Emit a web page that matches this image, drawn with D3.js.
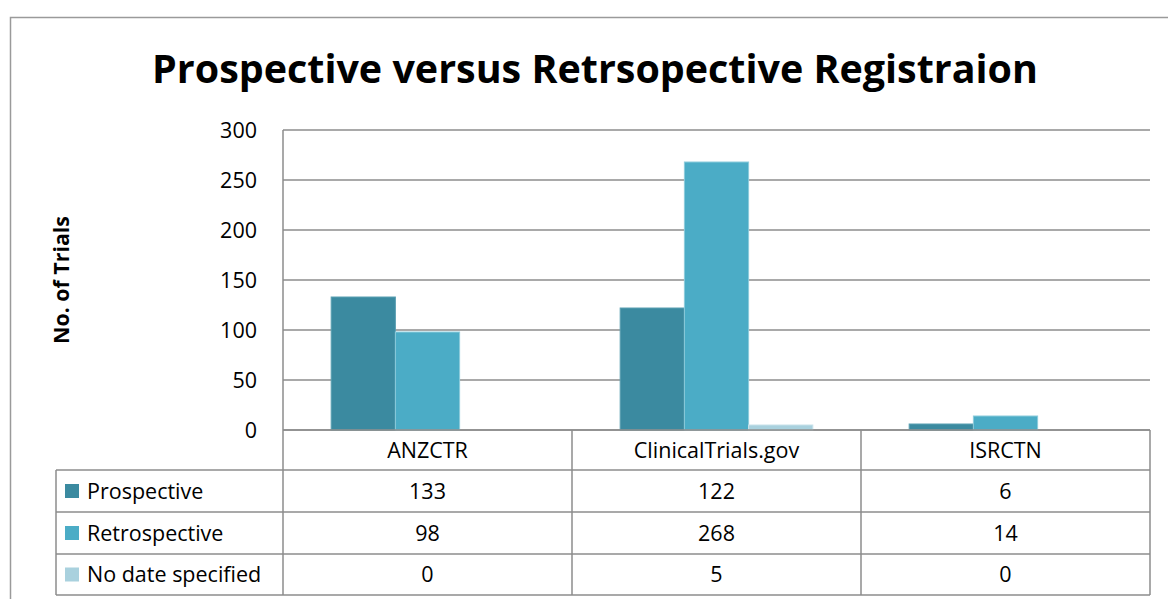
<!DOCTYPE html>
<html>
<head>
<meta charset="utf-8">
<script src="https://cdn.jsdelivr.net/npm/d3@7"></script>
<style>
  body { margin: 0; background: #fff; }
  svg { display: block; font-family: "Open Sans", "Noto Sans", sans-serif; }
</style>
</head>
<body>
<svg id="chart" width="1168" height="599"></svg>
<script>
// chart data
var categories = ["ANZCTR", "ClinicalTrials.gov", "ISRCTN"];
var seriesNames = ["Prospective", "Retrospective", "No date specified"];
var prospective = [133, 122, 6];
var retrospective = [98, 268, 14];
var noDate = [0, 5, 0];
var yTicks = [0, 50, 100, 150, 200, 250, 300];

var seriesValues = [prospective, retrospective, noDate];
var colors = ["#3b8aa0", "#4bacc6", "#a9d1de"];
var edgeColors = ["#5a9fb2", "#8ccbdb", "#c8e2ea"];

var plot = {left: 283, right: 1150, top: 130, bottom: 430};
var rowTops = [430, 470, 512, 554, 595];
var tableLeft = 56;
var gridColor = "#8c8c8c";
var fs = 21.5;

var svg = d3.select("#chart");

// outer chart border (runs off the right/bottom of the picture)
svg.append("rect")
  .attr("x", 10.5).attr("y", 17.5)
  .attr("width", 1200).attr("height", 700)
  .attr("fill", "none").attr("stroke", "#9a9a9a").attr("stroke-width", 1.5);

// fit a text node to a target width by changing its font size
function fitWidth(sel, base, target) {
  var w = sel.node().getComputedTextLength();
  sel.attr("font-size", base * target / w);
}

// title
var title = svg.append("text")
  .attr("x", (152 + 1038) / 2).attr("y", 83)
  .attr("text-anchor", "middle")
  .attr("font-weight", "bold")
  .attr("font-size", 40)
  .attr("fill", "#000")
  .text("Prospective versus Retrsopective Registraion");
fitWidth(title, 40, 886);

var x = d3.scaleBand().domain(categories).range([plot.left, plot.right]);
var xs = d3.scaleBand().domain(d3.range(seriesNames.length)).range([0, x.bandwidth()]).paddingOuter(0.75).paddingInner(0);
var y = d3.scaleLinear().domain([0, 300]).range([plot.bottom, plot.top]);

// gridlines
svg.append("g").selectAll("line")
  .data(yTicks)
  .enter().append("line")
  .attr("x1", plot.left).attr("x2", plot.right)
  .attr("y1", function(d) { return y(d); })
  .attr("y2", function(d) { return y(d); })
  .attr("stroke", gridColor).attr("stroke-width", 1.5);

// y tick labels
svg.append("g").selectAll("text")
  .data(yTicks)
  .enter().append("text")
  .attr("x", 257).attr("y", function(d) { return y(d); })
  .attr("dy", "0.35em")
  .attr("text-anchor", "end")
  .attr("font-size", fs)
  .attr("fill", "#000")
  .text(function(d) { return d; });

// y axis title
var yTitle = svg.append("text")
  .attr("transform", "translate(69,280) rotate(-90)")
  .attr("text-anchor", "middle")
  .attr("font-weight", "bold")
  .attr("font-size", 18)
  .attr("fill", "#000")
  .text("No. of Trials");
fitWidth(yTitle, 18, 128);

// bars
seriesValues.forEach(function(vals, s) {
  svg.append("g").selectAll("rect")
    .data(vals)
    .enter().append("rect")
    .attr("x", function(d, i) { return x(categories[i]) + xs(s); })
    .attr("width", xs.bandwidth())
    .attr("y", function(d) { return y(d); })
    .attr("height", function(d) { return y(0) - y(d); })
    .attr("fill", colors[s])
    .attr("stroke", edgeColors[s])
    .attr("stroke-width", function(d) { return d > 0 ? 1 : 0; });
});

// data table
var table = svg.append("g").attr("stroke", gridColor).attr("stroke-width", 1.5).attr("fill", "none");
rowTops.forEach(function(ry, i) {
  table.append("line")
    .attr("x1", i === 0 ? plot.left : tableLeft).attr("x2", plot.right)
    .attr("y1", ry).attr("y2", ry);
});
table.append("line").attr("x1", tableLeft).attr("x2", tableLeft).attr("y1", rowTops[1]).attr("y2", rowTops[4]);
table.append("line").attr("x1", plot.left).attr("x2", plot.left).attr("y1", plot.top).attr("y2", rowTops[4]);
categories.forEach(function(c) {
  var xr = x(c) + x.bandwidth();
  table.append("line").attr("x1", xr).attr("x2", xr).attr("y1", rowTops[0]).attr("y2", rowTops[4]);
});

// category headers
svg.append("g").selectAll("text")
  .data(categories)
  .enter().append("text")
  .attr("x", function(d) { return x(d) + x.bandwidth() / 2; })
  .attr("y", (rowTops[0] + rowTops[1]) / 2)
  .attr("dy", "0.35em")
  .attr("text-anchor", "middle")
  .attr("font-size", fs)
  .attr("fill", "#000")
  .text(function(d) { return d; });

// legend rows + values
seriesNames.forEach(function(name, s) {
  var cy = (rowTops[s + 1] + rowTops[s + 2]) / 2;
  svg.append("rect")
    .attr("x", 65).attr("y", cy - 7).attr("width", 14).attr("height", 14)
    .attr("fill", colors[s]);
  svg.append("text")
    .attr("x", 87).attr("y", cy)
    .attr("dy", "0.35em")
    .attr("font-size", fs)
    .attr("fill", "#000")
    .text(name);
  svg.append("g").selectAll("text")
    .data(seriesValues[s])
    .enter().append("text")
    .attr("x", function(d, i) { return x(categories[i]) + x.bandwidth() / 2; })
    .attr("y", cy)
    .attr("dy", "0.35em")
    .attr("text-anchor", "middle")
    .attr("font-size", fs)
    .attr("fill", "#000")
    .text(function(d) { return d; });
});
</script>
</body>
</html>
